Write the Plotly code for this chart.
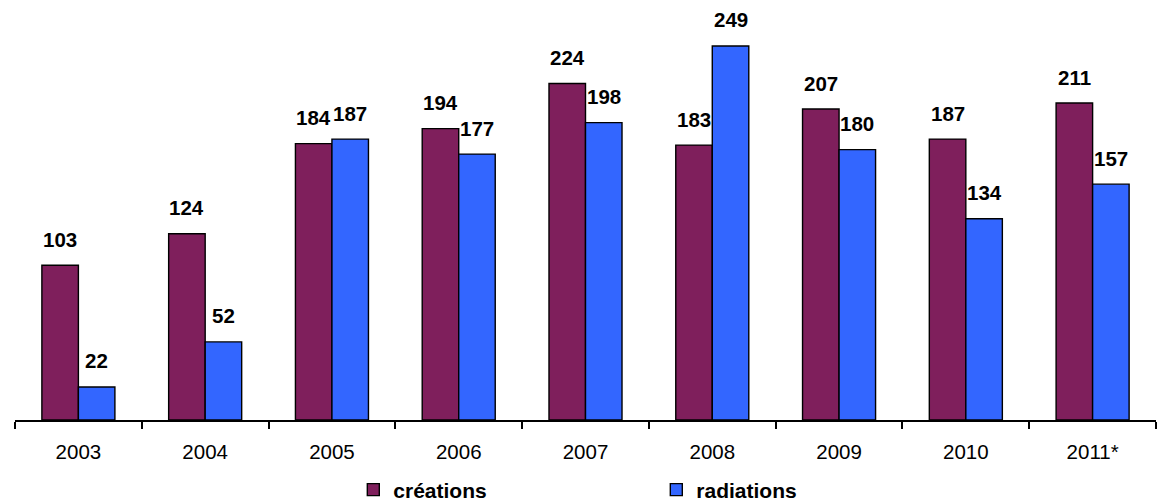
import plotly.graph_objects as go

years = ["2003", "2004", "2005", "2006", "2007", "2008", "2009", "2010", "2011*"]
creations = [103, 124, 184, 194, 224, 183, 207, 187, 211]
radiations = [22, 52, 187, 177, 198, 249, 180, 134, 157]

FONT = "Liberation Sans, Arial"

fig = go.Figure()
fig.add_trace(go.Bar(x=years, y=creations, name="créations",
                     marker=dict(color="#7F1F5C", line=dict(color="black", width=1.4))))
fig.add_trace(go.Bar(x=years, y=radiations, name="radiations",
                     marker=dict(color="#3366FF", line=dict(color="black", width=1.4))))

ann = []
for i in range(len(years)):
    for val, dx in ((creations[i], -18.3), (radiations[i], 18.3)):
        ann.append(dict(x=i, y=val, xref="x", yref="y", text=str(val), showarrow=False,
                        xshift=dx, yshift=26, font=dict(family=FONT, size=20.5,
                                                        color="black", weight="bold")))

fig.update_layout(
    width=1162, height=501,
    margin=dict(l=15, r=6, t=0, b=81),
    plot_bgcolor="white", paper_bgcolor="white",
    barmode="group", bargap=0.424, bargroupgap=0,
    annotations=ann,
    font=dict(family=FONT, color="black"),
    xaxis=dict(type="category", range=[-0.5, len(years) - 0.5], showline=True, linecolor="black",
               linewidth=1.5, ticks="outside", tickson="boundaries", ticklen=7, tickcolor="black",
               tickwidth=1.5, tickfont=dict(size=20.5), showgrid=False, tickangle=0,
               ticklabelstandoff=13),
    yaxis=dict(visible=False, range=[0, 279.6], showgrid=False),
    legend=dict(orientation="h", x=0.2965, xanchor="left", yref="container", y=0.022,
                yanchor="middle", entrywidth=258, font=dict(size=21, weight="bold"),
                traceorder="normal"),
)

fig.write_html("out.html", post_script="document.body.style.margin='0';",
               config={"displayModeBar": False})
